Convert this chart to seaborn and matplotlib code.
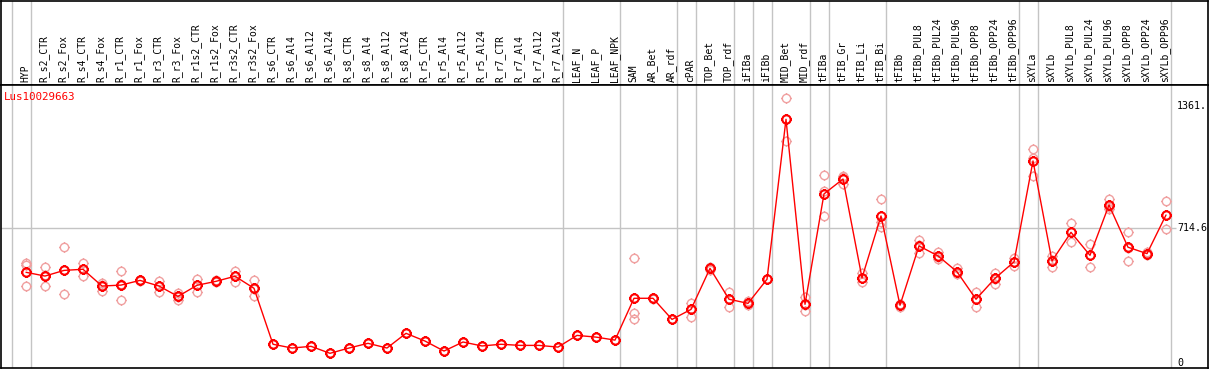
import numpy as np
import pandas as pd
import matplotlib
matplotlib.use("Agg")
import matplotlib.pyplot as plt
import seaborn as sns
from matplotlib.path import Path

labels = ['HYP', 'R_s2_CTR', 'R_s2_Fox', 'R_s4_CTR', 'R_s4_Fox', 'R_r1_CTR', 'R_r1_Fox',
          'R_r3_CTR', 'R_r3_Fox', 'R_r1s2_CTR', 'R_r1s2_Fox', 'R_r3s2_CTR', 'R_r3s2_Fox',
          'R_s6_CTR', 'R_s6_Al4', 'R_s6_Al12', 'R_s6_Al24', 'R_s8_CTR', 'R_s8_Al4',
          'R_s8_Al12', 'R_s8_Al24', 'R_r5_CTR', 'R_r5_Al4', 'R_r5_Al12', 'R_r5_Al24',
          'R_r7_CTR', 'R_r7_Al4', 'R_r7_Al12', 'R_r7_Al24', 'LEAF_N', 'LEAF_P', 'LEAF_NPK',
          'SAM', 'AR_Bet', 'AR_rdf', 'cPAR', 'TOP_Bet', 'TOP_rdf', 'iFIBa', 'iFIBb',
          'MID_Bet', 'MID_rdf', 'tFIBa', 'tFIB_Gr', 'tFIB_Li', 'tFIB_Bi', 'tFIBb',
          'tFIBb_PUL8', 'tFIBb_PUL24', 'tFIBb_PUL96', 'tFIBb_OPP8', 'tFIBb_OPP24',
          'tFIBb_OPP96', 'sXYLa', 'sXYLb', 'sXYLb_PUL8', 'sXYLb_PUL24', 'sXYLb_PUL96',
          'sXYLb_OPP8', 'sXYLb_OPP24', 'sXYLb_OPP96']

means = [479, 459, 489, 495, 406, 411, 436, 406, 351, 410, 431, 458, 394,
         97, 77, 86, 49, 77, 102, 77, 155, 114, 61, 109, 88, 97, 91, 91, 82,
         144, 135, 119,
         341, 341, 229, 282, 500, 336, 314, 442, 1291, 309, 895, 974, 449, 778,
         304, 619, 566, 482, 336, 447, 534, 1070, 539, 691, 569, 836, 612, 578, 783]

rep_a = [527, 505, 612, 530, 424, 484, 440, 434, 371, 443, 436, 486, 436,
         97, 77, 86, 49, 77, 102, 77, 155, 114, 61, 109, 88, 97, 91, 91, 82,
         144, 135, 119,
         553, 345, 229, 318, 508, 374, 325, 442, 1403, 346, 994, 992, 474, 868,
         310, 650, 589, 503, 374, 477, 553, 1132, 566, 739, 629, 867, 691, 587, 858]
rep_b = [406, 406, 364, 458, 380, 330, 432, 376, 332, 376, 426, 429, 355,
         97, 77, 86, 49, 77, 102, 77, 155, 114, 61, 109, 88, 97, 91, 91, 82,
         144, 135, 119,
         229, 336, 229, 243, 492, 296, 305, 442, 1178, 275, 778, 946, 426, 721,
         296, 583, 548, 470, 296, 419, 514, 990, 509, 641, 509, 813, 537, 578, 707]
rep_c = [519, 466, 491, 497, 414, 419, 436, 408, 350, 411, 431, 459, 391,
         97, 77, 86, 49, 77, 102, 77, 155, 114, 61, 109, 88, 97, 91, 91, 82,
         144, 135, 119,
         261, 341, 229, 285, 500, 338, 312, 442, 1292, 306, 913, 985, 447, 745,
         304, 624, 561, 473, 338, 445, 535, 1088, 542, 693, 569, 828, 608, 569, 784]

# last column of each sample group (grey separators drawn after these)
group_ends = [-1, 0, 28, 31, 34, 35, 37, 38, 39, 41, 42, 45, 52, 53, 60]
gene = 'Lus10029663'
ref_ticks = [1361, 714.6, 0]
ref_tick_text = ['1361.', '714.6', '0']

idx = np.arange(len(labels))
df_mean = pd.DataFrame({'pos': idx, 'value': means})
df_rep = pd.DataFrame({'pos': np.tile(idx, 3),
                       'value': rep_a + rep_b + rep_c,
                       'rep': np.repeat([1, 2, 3], len(labels))})

sns.set_style('white')
plt.rcParams['font.family'] = ['DejaVu Sans Mono']

# circle with small crosshair ticks
circ = Path.unit_circle()
tk = 1.25
ticks = Path([(0, 1), (0, tk), (0, -1), (0, -tk), (1, 0), (tk, 0), (-1, 0), (-tk, 0)],
             [Path.MOVETO, Path.LINETO] * 4)
reticle = Path.make_compound_path(circ, ticks)

W, H = 1209, 370
fig = plt.figure(figsize=(W / 100, H / 100), dpi=100)
x0, x1 = 1, 1208
head = fig.add_axes([x0 / W, (H - 85) / H, (x1 - x0) / W, 84.5 / H])
ax = fig.add_axes([x0 / W, (H - 368) / H, (x1 - x0) / W, 283 / H])

xlim = ((x0 - 26) / 19, (x1 - 26) / 19)
for a in (head, ax):
    a.set_xlim(*xlim)
    a.set_xticks([])
    a.set_yticks([])
    for s in a.spines.values():
        s.set_color('black')
        s.set_linewidth(1.2)
    for g in group_ends:
        a.axvline(g + 0.27, color='#c4c4c4', lw=1, zorder=0)

head.set_ylim(0, 1)
for i, lab in enumerate(labels):
    head.text(i - 0.05, 0.03, lab, rotation=90, ha='center', va='bottom',
              fontsize=7, color='black')

ax.set_ylim(-29, 1473)
right_edge = (1176 - 26) / 19
ax.hlines(714.6, xlim[0], right_edge, color='#c4c4c4', lw=1, zorder=0)

# replicates: markers only
sns.lineplot(data=df_rep, x='pos', y='value', units='rep', estimator=None, ax=ax,
             color='#f0a0a0', lw=0, marker=reticle, markersize=7.5,
             markerfacecolor='none', markeredgecolor='#f0a0a0', markeredgewidth=1.0,
             zorder=2, legend=False)
# means
sns.lineplot(data=df_mean, x='pos', y='value', ax=ax, color='red', lw=1,
             marker=reticle, markersize=7.5, markerfacecolor='none',
             markeredgecolor='red', markeredgewidth=1.5, zorder=3)
ax.set_xlim(*xlim)
ax.set_xlabel('')
ax.set_ylabel('')
ax.set_xticks([])
ax.set_yticks([])

for v, t in zip(ref_ticks, ref_tick_text):
    ax.text(right_edge + 0.05, v, t, ha='left', va='center', fontsize=7.2, color='black')

ax.text(3 / (x1 - x0), 0.958, gene, transform=ax.transAxes, ha='left', va='center',
        fontsize=7.8, color='red')

fig.savefig('out.png', dpi=100)
